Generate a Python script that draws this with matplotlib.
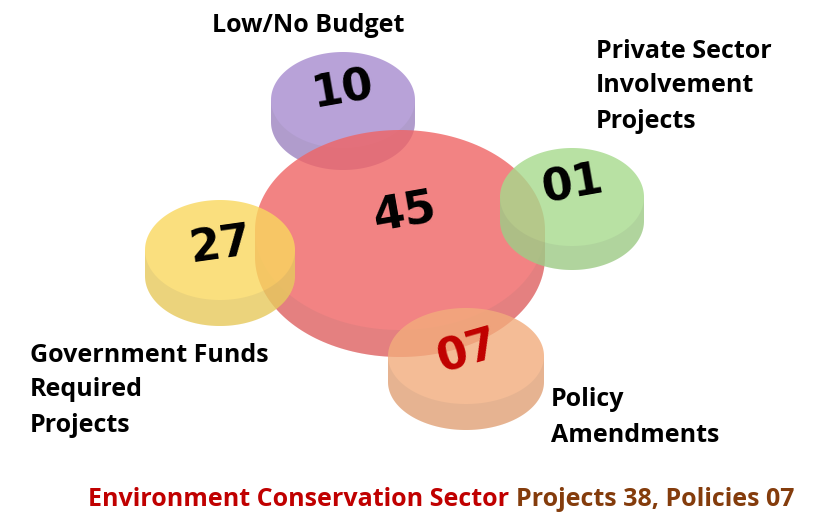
import numpy as np
import matplotlib.pyplot as plt
from matplotlib.patches import Polygon

# Chart data
values = [10, 45, 27, 1, 7]
names = ["Low/No Budget", "", "Government Funds\nRequired\nProjects",
         "Private Sector\nInvolvement\nProjects", "Policy\nAmendments"]
title_sector = "Environment Conservation Sector"
title_counts = "Projects 38, Policies 07"

# Layout of the discs (pixel space): centre of top face, semi-axes, thickness
centers = [(343, 100), (400, 230), (220, 250), (572, 197), (466, 356)]
semi_axes = [(72, 48), (145, 100), (75, 50), (72, 49), (78, 48)]
thickness = [22, 27, 26, 24, 26]
colors = ["#A78BCF", "#EF6464", "#F9D85E", "#A6DA8C", "#F2AC7C"]
num_colors = ["black", "black", "black", "black", "#C00000"]
num_rot = [10, 10, 8, 10, 16]
num_size = [32, 33, 32, 32, 32]
num_off = [(0, -10), (5, -17), (0, -5), (1, -12), (2, -4)]
label_pos = [(308, 25, "center"), None, (30, 355, "left"), (596, 51, "left"), (551, 400, "left")]

fig = plt.figure(figsize=(8.32, 5.19), dpi=100)
ax = fig.add_axes([0, 0, 1, 1])
ax.set_xlim(0, 832)
ax.set_ylim(519, 0)
ax.axis("off")

for i, v in enumerate(values):
    cx, cy = centers[i]
    a, b = semi_axes[i]
    t = thickness[i]
    th1 = np.linspace(0, np.pi, 100)
    th2 = np.linspace(np.pi, 2 * np.pi, 100)
    top = np.column_stack([cx + a * np.cos(th1), cy - b * np.sin(th1)])
    bot = np.column_stack([cx + a * np.cos(th2), cy + t - b * np.sin(th2)])
    face_low = np.column_stack([cx + a * np.cos(th2[::-1]), cy - b * np.sin(th2[::-1])])
    ax.add_patch(Polygon(np.vstack([top, bot]), closed=True, fc=colors[i],
                         ec="none", alpha=0.8, zorder=2 + i))
    # darker side band
    ax.add_patch(Polygon(np.vstack([bot, face_low]), closed=True, fc="#6b6b6b",
                         ec="none", alpha=0.10, zorder=2 + i))
    dx, dy = num_off[i]
    ax.text(cx + dx, cy + dy, f"{v:02d}", fontsize=num_size[i], fontweight="bold",
            family="DejaVu Sans", color=num_colors[i], rotation=num_rot[i],
            ha="center", va="center", zorder=20)

for i, name in enumerate(names):
    if label_pos[i] is None:
        continue
    x, y, ha = label_pos[i]
    for k, line in enumerate(name.split("\n")):
        ax.text(x, y + 35 * k, line, fontsize=18, fontweight="bold",
                family="Open Sans", color="black", ha=ha, va="center", zorder=20)

t1 = ax.text(88, 500, title_sector + " ", fontsize=18, fontweight="bold",
             family="Open Sans", color="#C00000", ha="left", va="center")
fig.canvas.draw()
bb = t1.get_window_extent()
x2 = ax.transData.inverted().transform((bb.x1, bb.y0))[0]
ax.text(x2, 500, title_counts, fontsize=18, fontweight="bold",
        family="Open Sans", color="#843C0C", ha="left", va="center")

fig.savefig("out.png", dpi=100)
